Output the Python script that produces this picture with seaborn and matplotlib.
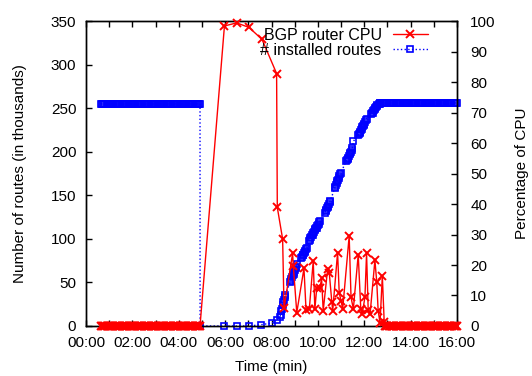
import pandas as pd
import seaborn as sns
import matplotlib.pyplot as plt
from matplotlib.ticker import MultipleLocator, FuncFormatter

# idle period before the session reset (seconds), CPU at 0, table full
t_idle = [38, 41, 44, 47, 50, 53, 56, 59, 62, 65, 68, 71, 74, 77, 80, 83,
          86, 89, 92, 95, 98, 101, 104, 107, 110, 113, 116, 119, 122, 125,
          128, 131, 134, 137, 140, 143, 146, 149, 152, 155, 158, 161, 164,
          167, 170, 173, 176, 179, 182, 185, 188, 191, 194, 197, 200, 203,
          206, 209, 212, 215, 218, 221, 224, 227, 230, 233, 236, 239, 242,
          245, 248, 251, 254, 257, 260, 263, 266, 269, 272, 275, 278, 281,
          284, 287, 290, 293, 295]
cpu_idle = [0] * len(t_idle)
routes_idle = [255] * len(t_idle)

# busy period, CPU (minutes, percent)
cpu_busy_t = [5.97, 6.50, 7.03, 7.59, 8.22, 8.25, 8.48, 8.54, 8.91, 8.94,
              9.09, 9.40, 9.49, 9.63, 9.80, 9.87, 9.95, 10.09, 10.16, 10.23,
              10.42, 10.49, 10.60, 10.64, 10.85, 10.92, 11.00, 11.07, 11.35,
              11.43, 11.53, 11.74, 11.85, 11.91, 12.03, 12.10, 12.17, 12.25,
              12.46, 12.54, 12.60, 12.68, 12.78, 12.86]
cpu_busy = [98.4, 99.4, 97.9, 94.0, 82.8, 38.9, 28.5, 5.8, 23.8, 19.7,
            4.4, 18.9, 5.2, 5.5, 21.4, 5.5, 12.4, 12.4, 15.6, 5.0,
            18.6, 17.5, 8.0, 5.0, 24.1, 10.9, 8.2, 5.6, 29.5,
            9.4, 5.6, 23.4, 5.6, 3.8, 9.5, 23.9, 5.2, 3.8,
            21.6, 14.3, 5.0, 1.0, 16.4, 1.4]

# after convergence (seconds)
t_tail = [774, 777, 780, 783, 786, 789, 792, 795, 798, 801, 804, 807, 810,
          813, 816, 819, 822, 825, 828, 831, 834, 837, 840, 843, 846, 849,
          852, 855, 858, 861, 864, 867, 870, 873, 876, 879, 882, 885, 888,
          891, 894, 897, 900, 903, 906, 909, 912, 915, 918, 921, 924, 927,
          930, 933, 936, 939, 942, 945, 948, 951, 954, 957, 960]
cpu_tail = [0] * len(t_tail)

# installed routes during re-convergence (minutes, thousands)
routes_busy_t = [4.92, 5.97, 6.50, 7.03, 7.55, 8.03, 8.22,
                 8.36, 8.39, 8.42, 8.45, 8.48, 8.51, 8.54, 8.57, 8.60,
                 8.80, 8.83, 8.86, 8.89, 8.92, 8.95, 8.98, 9.01, 9.04, 9.07, 9.10,
                 9.28, 9.31, 9.34, 9.37, 9.40, 9.43, 9.46, 9.49, 9.52,
                 9.62, 9.65, 9.68, 9.71, 9.74, 9.77, 9.80, 9.83, 9.86, 9.89,
                 9.92, 9.95, 9.98, 10.01, 10.04, 10.07, 10.10,
                 10.30, 10.33, 10.36, 10.39, 10.42, 10.45, 10.48, 10.51, 10.54,
                 10.72, 10.75, 10.78, 10.81, 10.84, 10.87, 10.90, 10.93, 10.96, 10.99,
                 11.22, 11.25, 11.28, 11.31, 11.34, 11.37, 11.40, 11.43, 11.46, 11.49,
                 11.53,
                 11.74, 11.77, 11.80, 11.83, 11.86, 11.89, 11.92, 11.95, 11.98,
                 12.01, 12.04, 12.07, 12.10,
                 12.30, 12.33, 12.36, 12.39, 12.42, 12.45, 12.48, 12.51, 12.54, 12.57,
                 12.63, 12.66, 12.70]
routes_busy = [0, 0, 0, 0, 1.5, 3.4, 6.9,
               10, 13, 17, 20, 24, 27, 30, 33, 36,
               50, 52, 54, 56, 58, 60, 62, 64, 66, 68, 71,
               78, 79, 81, 82, 84, 85, 86, 88, 89,
               98, 99, 101, 102, 104, 105, 107, 108, 110, 111,
               112, 113, 115, 116, 117, 119, 120,
               130, 132, 133, 135, 137, 138, 140, 142, 144,
               158, 160, 162, 164, 166, 168, 170, 172, 174, 176,
               189, 190, 192, 193, 195, 197, 198, 200, 202, 204,
               212,
               219, 220, 222, 223, 225, 226, 228, 229, 231,
               232, 234, 236, 238,
               243, 244, 245, 247, 248, 249, 250, 251, 252, 254,
               255, 255, 256]

routes_tail_t = [762, 765, 768, 771] + t_tail
routes_tail = [256] * len(routes_tail_t)

cpu = pd.DataFrame({
    'minute': [t / 60 for t in t_idle] + cpu_busy_t + [t / 60 for t in t_tail],
    'cpu': cpu_idle + cpu_busy + cpu_tail,
})
routes = pd.DataFrame({
    'minute': [t / 60 for t in t_idle] + routes_busy_t + [t / 60 for t in routes_tail_t],
    'routes': routes_idle + routes_busy + routes_tail,
})

sns.set_theme(style='ticks', rc={'axes.edgecolor': 'black', 'text.color': 'black',
                                 'axes.labelcolor': 'black', 'xtick.color': 'black',
                                 'ytick.color': 'black', 'axes.linewidth': 1.0})
plt.rcParams['font.family'] = ['Liberation Sans', 'DejaVu Sans']
fs = 11

fig, ax = plt.subplots(figsize=(5.32, 3.76), dpi=100)
fig.subplots_adjust(left=0.1617, right=0.859, top=0.944, bottom=0.133)
ax2 = ax.twinx()

sns.lineplot(data=routes, x='minute', y='routes', ax=ax, color='blue',
             linestyle=':', linewidth=1, marker='s', markersize=4,
             markerfacecolor='none', markeredgecolor='blue', markeredgewidth=1.2,
             estimator=None, sort=False, clip_on=False, label='# installed routes',
             legend=False)
sns.lineplot(data=cpu, x='minute', y='cpu', ax=ax2, color='red',
             linewidth=1, marker='x', markersize=5.5, markeredgecolor='red',
             markeredgewidth=1.4, estimator=None, sort=False, clip_on=False,
             zorder=3, label='BGP router CPU', legend=False)

ax.set_xlim(0, 16)
ax.set_ylim(0, 350)
ax2.set_ylim(0, 100)
ax.xaxis.set_major_locator(MultipleLocator(2))
ax.xaxis.set_minor_locator(MultipleLocator(1))
ax.xaxis.set_major_formatter(FuncFormatter(lambda v, p: f"{int(v):02d}:00"))
ax.yaxis.set_major_locator(MultipleLocator(50))
ax2.yaxis.set_major_locator(MultipleLocator(10))

ax.tick_params(axis='x', which='both', direction='in', length=4, top=True,
               labelsize=fs, width=1, pad=7.5)
ax.tick_params(axis='y', direction='in', length=4, labelsize=fs, width=1, pad=7)
ax2.tick_params(axis='y', direction='in', length=4, labelsize=fs, width=1, pad=9.5)

ax.set_xlabel('Time (min)', fontsize=fs, labelpad=7)
ax.set_ylabel('Number of routes (in thousands)', fontsize=fs, labelpad=17)
ax2.set_ylabel('Percentage of CPU', fontsize=fs, labelpad=14)

handles = [ax2.lines[0], ax.lines[0]]
ax2.legend(handles, ['BGP router CPU', '# installed routes'], loc='upper right',
           bbox_to_anchor=(0.8045, 0.926), bbox_transform=fig.transFigure,
           frameon=False, markerfirst=False, fontsize=11.5, handlelength=2.2,
           handletextpad=0.7, labelspacing=0, borderpad=0, borderaxespad=0)

fig.savefig('out.png', dpi=100)
